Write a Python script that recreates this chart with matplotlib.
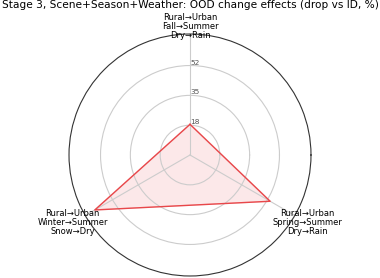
import numpy as np
import matplotlib.pyplot as plt

# Radar chart data
categories = [
    "Rural\u2192Urban\nFall\u2192Summer\nDry\u2192Rain",
    "Rural\u2192Urban\nSpring\u2192Summer\nDry\u2192Rain",
    "Rural\u2192Urban\nWinter\u2192Summer\nSnow\u2192Dry",
]
drops = [18.0, 54.3, 64.5]
r_ticks = [17.5, 35.0, 52.5]
r_max = 71.0

# start at the top and go clockwise
angles = (np.pi / 2 - np.arange(len(categories)) * 2 * np.pi / len(categories)) % (2 * np.pi)
angles_closed = np.append(angles, angles[0])
vals_closed = np.append(drops, drops[0])

fig = plt.figure(figsize=(3.8, 2.78), dpi=100)
ax = fig.add_axes([0.1816, 0.0072, 0.6368, 0.8705], polar=True)

ax.plot(angles_closed, vals_closed, color="#e8474a", linewidth=1.0)
ax.fill(angles_closed, vals_closed, color="#e8474a", alpha=0.12)

# spokes without the default tick labels, category names drawn by hand
ax.set_thetagrids(np.degrees(angles), [""] * len(categories))
ax.set_thetalim(0, 2 * np.pi)
for i, (ang, name) in enumerate(zip(angles, categories)):
    label_r = r_max * (1.065 if i == 0 else 1.12)
    ax.text(ang, label_r, name, fontsize=6, ha="center", va="center",
            linespacing=1.0, clip_on=False)

ax.set_ylim(0, r_max)
ax.set_yticks(r_ticks)
ax.set_yticklabels([f"{t:.0f}" for t in r_ticks], fontsize=5.3, color="#555555")
ax.set_rlabel_position(90)
ax.grid(color="#cccccc", linewidth=0.8)
ax.spines["polar"].set_color("#333333")
ax.spines["polar"].set_linewidth(0.8)

fig.suptitle("Stage 3, Scene+Season+Weather: OOD change effects (drop vs ID, %)",
             fontsize=7.6, y=1.0)

fig.savefig("out.png", dpi=100)
